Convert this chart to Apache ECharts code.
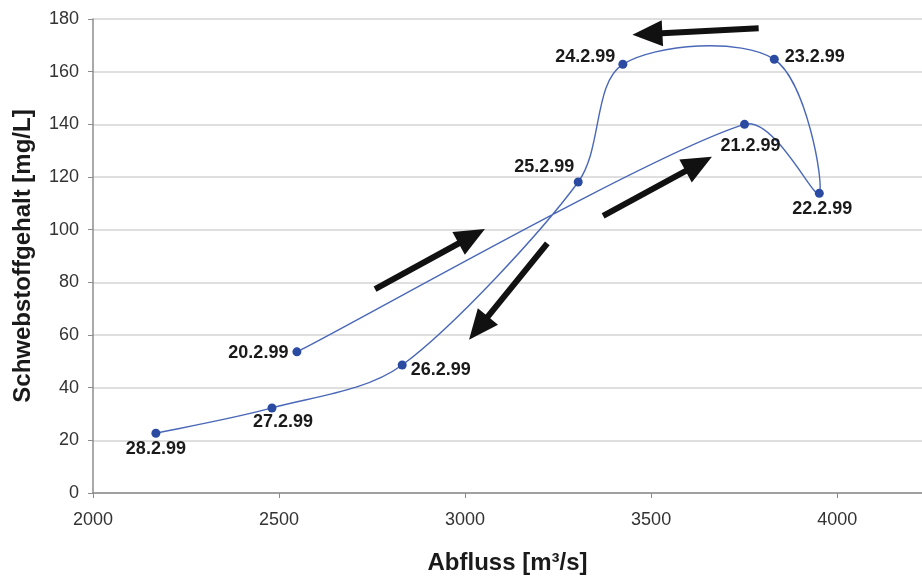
<!DOCTYPE html>
<html>
<head>
<meta charset="utf-8">
<script src="https://cdn.jsdelivr.net/npm/echarts@6/dist/echarts.min.js"></script>
<style>
html,body{margin:0;padding:0;background:#fff;}
#chart{width:922px;height:576px;}
</style>
</head>
<body>
<div id="chart"></div>
<script>
// ---- data ----
const dates = ['20.2.99','21.2.99','22.2.99','23.2.99','24.2.99','25.2.99','26.2.99','27.2.99','28.2.99'];
const discharge = [2548, 3751, 3952, 3831, 3424, 3304, 2831, 2481, 2169];
const sediment = [53.6, 140.0, 113.8, 164.7, 162.8, 118.1, 48.6, 32.3, 22.7];
const yTicks = [0, 20, 40, 60, 80, 100, 120, 140, 160, 180];
const xTicks = [2000, 2500, 3000, 3500, 4000];
// direction arrows: [tailX, tailY, headX, headY]
const arrows = [
  [2758, 77.4, 3018, 97.5],
  [3371, 105.2, 3628, 125.0],
  [3789, 176.5, 3490, 174.3],
  [3221, 94.8, 3036, 62.6]
];

// ---- label placement (style) ----
const labelLayout = {
  '20.2.99': {position: 'left', distance: 4, offset: [0, 1]},
  '21.2.99': {position: 'bottom', distance: 8, offset: [6, 0]},
  '22.2.99': {position: 'bottom', distance: 2, offset: [3, 0]},
  '23.2.99': {position: 'right', distance: 6, offset: [0, -2]},
  '24.2.99': {position: 'left', distance: 3, offset: [0, -7]},
  '25.2.99': {position: 'top', distance: 1, offset: [-34, 0]},
  '26.2.99': {position: 'right', distance: 4, offset: [0, 5]},
  '27.2.99': {position: 'bottom', distance: 1, offset: [11, 0]},
  '28.2.99': {position: 'bottom', distance: 2, offset: [0, 0]}
};

const points = discharge.map((x, i) => [x, sediment[i]]);
const seriesData = dates.map((d, i) => ({
  value: points[i],
  name: d,
  label: Object.assign({show: true, formatter: d}, labelLayout[d])
}));

// spreadsheet-style smoothed curve through pixel points
function smoothPath(px) {
  const n = px.length;
  const cpOut = [], cpIn = [];
  for (let i = 0; i < n; i++) {
    const p = px[i];
    if (i === 0 || i === n - 1) {
      const q = i === 0 ? px[1] : px[n - 2];
      const c = [p[0] + (q[0] - p[0]) / 6, p[1] + (q[1] - p[1]) / 6];
      cpOut[i] = c; cpIn[i] = c;
      continue;
    }
    const a = px[i - 1], b = px[i + 1];
    const d0 = Math.hypot(p[0] - a[0], p[1] - a[1]);
    const d1 = Math.hypot(b[0] - p[0], b[1] - p[1]);
    const vx = b[0] - a[0], vy = b[1] - a[1];
    const rf = Math.min(d1 / (d0 + d1), 0.5) / 3;
    const rb = Math.min(d0 / (d0 + d1), 0.5) / 3;
    cpOut[i] = [p[0] + vx * rf, p[1] + vy * rf];
    cpIn[i] = [p[0] - vx * rb, p[1] - vy * rb];
  }
  let d = 'M' + px[0][0] + ' ' + px[0][1];
  for (let i = 0; i < n - 1; i++) {
    d += ' C' + cpOut[i][0] + ' ' + cpOut[i][1] + ' ' + cpIn[i + 1][0] + ' ' + cpIn[i + 1][1] + ' ' + px[i + 1][0] + ' ' + px[i + 1][1];
  }
  return d;
}

const chart = echarts.init(document.getElementById('chart'), null, {renderer: 'canvas'});
chart.setOption({
  animation: false,
  backgroundColor: '#ffffff',
  grid: {left: 93, right: 0, top: 19, bottom: 83, containLabel: false, outerBoundsMode: 'none'},
  xAxis: {
    type: 'value',
    min: xTicks[0],
    max: 4228,
    interval: 500,
    name: 'Abfluss [m³/s]',
    nameLocation: 'middle',
    nameGap: 58,
    nameTextStyle: {fontFamily: 'Liberation Sans', fontWeight: 'bold', fontSize: 24, color: '#1a1a1a'},
    axisLine: {show: true, lineStyle: {color: '#8c8c8c', width: 1.5}},
    axisTick: {show: true, length: 5, lineStyle: {color: '#8c8c8c'}},
    axisLabel: {showMaxLabel: false, margin: 18, fontFamily: 'Liberation Sans', fontSize: 18, color: '#333333',
      formatter: v => xTicks.includes(v) ? String(v) : ''},
    splitLine: {show: false}
  },
  yAxis: {
    type: 'value',
    min: yTicks[0],
    max: yTicks[yTicks.length - 1],
    interval: 20,
    name: 'Schwebstoffgehalt [mg/L]',
    nameLocation: 'middle',
    nameGap: 58,
    nameTextStyle: {fontFamily: 'Liberation Sans', fontWeight: 'bold', fontSize: 24, color: '#1a1a1a'},
    axisLine: {show: true, lineStyle: {color: '#8c8c8c', width: 1.5}},
    axisTick: {show: true, length: 5, lineStyle: {color: '#8c8c8c'}},
    axisLabel: {margin: 14, fontFamily: 'Liberation Sans', fontSize: 18, color: '#333333'},
    splitLine: {show: true, lineStyle: {color: '#d4d4d4', width: 1.5}}
  },
  series: [{
    type: 'custom',
    z: 2,
    silent: true,
    data: points,
    encode: {x: 0, y: 1},
    renderItem: function (params, api) {
      if (params.dataIndex !== 0) return null;
      const px = points.map(p => api.coord(p));
      return {
        type: 'path',
        shape: {pathData: smoothPath(px)},
        style: {fill: 'none', stroke: '#4a68b8', lineWidth: 1.4}
      };
    }
  }, {
    type: 'scatter',
    z: 3,
    data: seriesData,
    symbol: 'circle',
    symbolSize: 9,
    itemStyle: {color: '#2b4ba3', opacity: 1},
    label: {fontFamily: 'Liberation Sans', fontWeight: 'bold', fontSize: 18, color: '#1a1a1a'},
    markLine: {
      silent: true,
      animation: false,
      symbol: ['none', 'triangle'],
      symbolSize: [26, 30],
      label: {show: false},
      lineStyle: {color: '#111111', width: 6, type: 'solid'},
      emphasis: {disabled: true},
      data: arrows.map(a => [{coord: [a[0], a[1]]}, {coord: [a[2], a[3]]}])
    }
  }]
});
</script>
</body>
</html>
